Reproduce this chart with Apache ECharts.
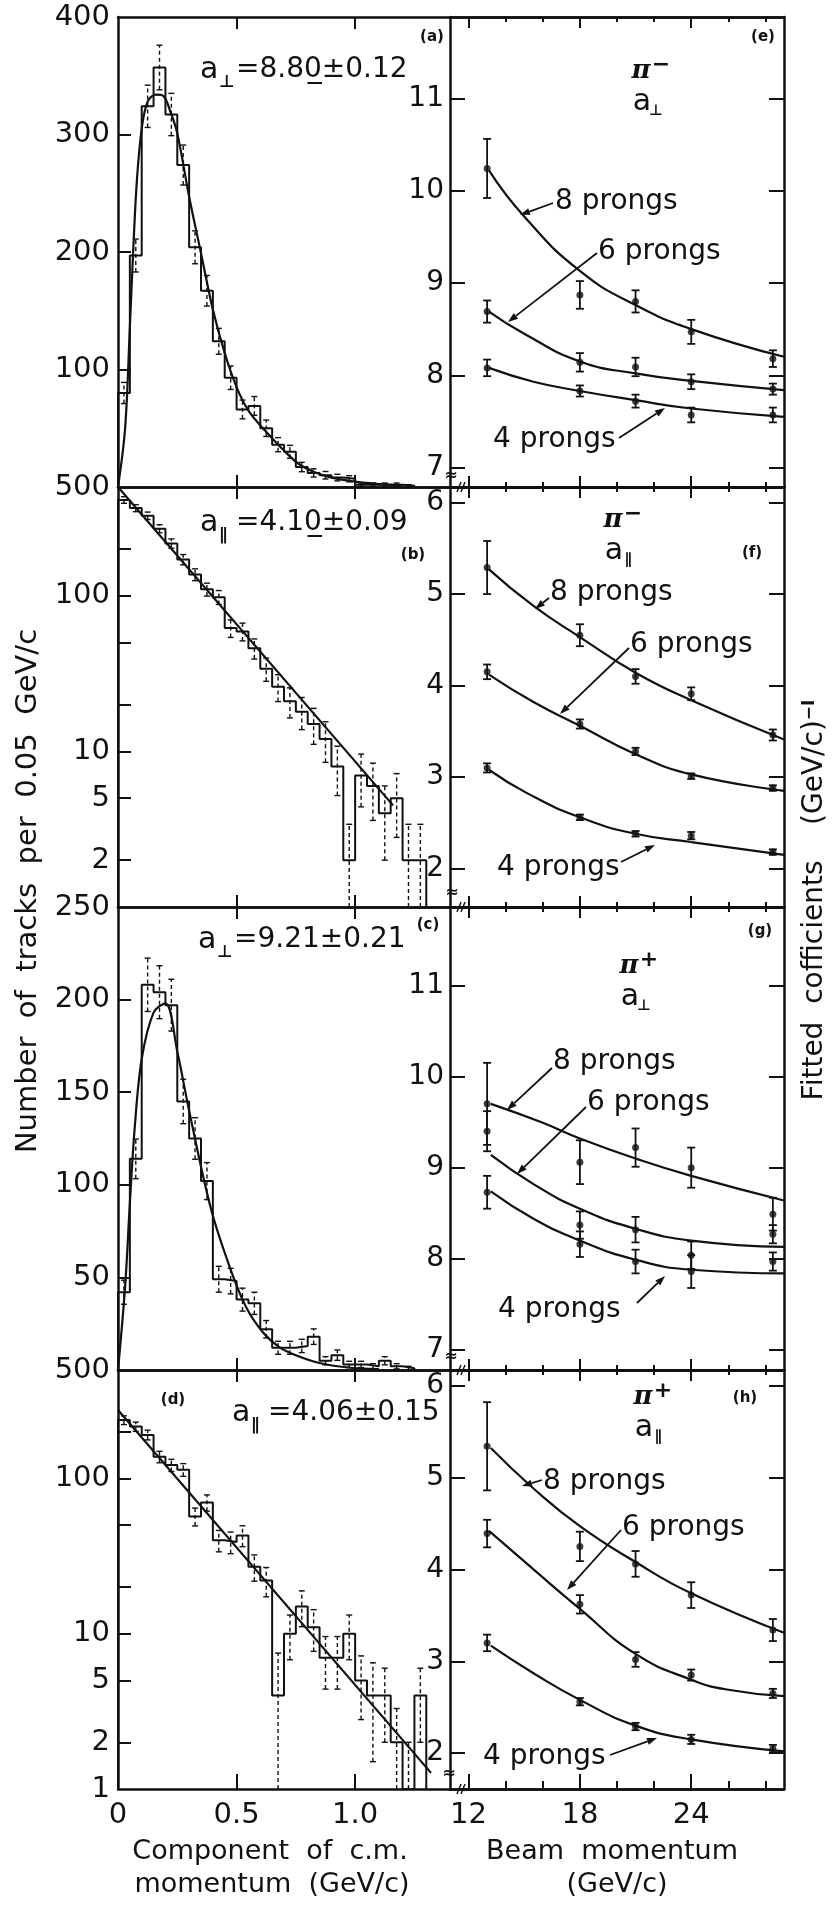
<!DOCTYPE html>
<html><head><meta charset="utf-8">
<script src="https://cdn.jsdelivr.net/npm/echarts@6/dist/echarts.min.js"></script>
<style>html,body{margin:0;padding:0;background:#fff}#c{width:835px;height:1905px}</style>
</head><body><div id="c"></div>
<script>
// ---------------- DATA ----------------
const binEdges = [0,0.05,0.1,0.15,0.2,0.25,0.3,0.35,0.4,0.45,0.5,0.55,0.6,0.65,0.7,0.75,0.8,0.85,0.9,0.95,1.0,1.05,1.1,1.15,1.2,1.25,1.3];
// (a) pi- transverse
const countsA = [80,197,324,357,317,274,204,167,124,93,66,69,50,36,30,17,12,10,8,7,2,2,2,2,1];
const errsA   = [9,14,18,19,18,17,14,13,11,10,8,8,7,6,5.5,4,3.5,3.2,2.8,2.6,1.4,1.4,1.4,1.4,1];
// (b) pi- longitudinal
const countsB = [413,366,327,270,217,171,137,110,98,62,59,46,34,26,21,18,15,12,8,2,7,6,4,5,2,2];
const errsB   = [20,19,18,16,15,13,12,10.5,10,8,7.7,6.8,5.8,5.1,4.6,4.2,3.9,3.5,2.8,1.4,2.6,2.4,2,2.2,1.4,1.4];
// (c) pi+ transverse
const countsC = [42,114,208,204,197,145,125,102,49,48,38,36,22,12,12,13,18,5,8,3,3,2,5,2,1];
const errsC   = [6.5,10.7,14.4,14.3,14,12,11.2,10,7,6.9,6.2,6,4.7,3.5,3.5,3.6,4.2,2.2,2.8,1.7,1.7,1.4,2.2,1.4,1];
// (d) pi+ longitudinal
const countsD = [238,216,191,138,122,114,57,70,40,39,43,27,22,4,10,15,11,7,7,10,5,4,4,2,1,4];
const errsD   = [15.4,14.7,13.8,11.7,11,10.7,7.5,8.4,6.3,6.2,6.6,5.2,4.7,3.5,3.2,3.9,3.3,2.6,2.6,3.2,2.2,2.5,2,1.3,1,2];
// fitted curves
const fitAx = [0,0.03,0.05,0.065,0.08,0.1,0.125,0.16,0.19,0.22,0.25,0.3,0.35,0.4,0.45,0.5,0.55,0.62,0.69,0.76,0.83,0.9,1.0,1.1,1.2];
const fitAy = [0,50,136,205,262,305,328,334,333,320,301,247,199,151,114,85,65,48,33,20,12.5,8,4.5,2.5,1.5];
const fitBx = [0,1.16];
const fitBy = [500,4.5];
const fitCx = [0,0.03,0.05,0.07,0.1,0.15,0.2,0.25,0.3,0.39,0.47,0.54,0.61,0.68,0.75,0.85,0.98,1.1];
const fitCy = [0,45,90,130,168,193,198,172,140,88,56,34,20.5,12.4,8,3.8,1.2,0.5];
const fitDx = [0,1.32];
const fitDy = [276,1.27];

// right panels: beam momentum (GeV/c)
const beamP = [13,18,21,24,28.4];
// (e) pi- a_perp
const eVal8 = [10.24,8.87,8.80,8.47,8.18], eErr8 = [0.32,0.15,0.12,0.13,0.09];
const eVal6 = [8.69,8.14,8.09,7.93,7.85],  eErr6 = [0.12,0.10,0.10,0.08,0.06];
const eVal4 = [8.08,7.83,7.72,7.57,7.57],  eErr4 = [0.09,0.06,0.07,0.08,0.08];
const eCur8x = [13.1,15,18,21,24,29], eCur8y = [10.22,9.72,9.13,8.76,8.50,8.20];
const eCur6x = [13.1,15,18,21,24,29], eCur6y = [8.69,8.45,8.15,8.02,7.94,7.84];
const eCur4x = [13.1,15.5,18,21,24,29], eCur4y = [8.08,7.93,7.83,7.73,7.64,7.55];
// (f) pi- a_par
const fVal8 = [5.29,4.55,4.10,3.91,3.46], fErr8 = [0.29,0.12,0.08,0.07,0.06];
const fVal6 = [4.15,3.58,3.28,3.01,2.88], fErr6 = [0.08,0.05,0.04,0.03,0.03];
const fVal4 = [3.10,2.56,2.38,2.36,2.18], fErr4 = [0.05,0.03,0.03,0.04,0.03];
const fCur8x = [13.1,15.5,18,21,24,29], fCur8y = [5.27,4.87,4.53,4.14,3.84,3.41];
const fCur6x = [13.1,15.5,18,21,24,29], fCur6y = [4.12,3.82,3.56,3.25,3.03,2.85];
const fCur4x = [13.1,15.1,18,21,24,29], fCur4y = [3.08,2.83,2.56,2.38,2.29,2.15];
// (g) pi+ a_perp
const gVal8 = [9.70,9.06,9.22,9.00,8.49], gErr8 = [0.45,0.24,0.21,0.22,0.18];
const gVal6 = [9.40,8.37,8.32,8.04,8.27], gErr6 = [0.22,0.15,0.14,0.15,0.10];
const gVal4 = [8.73,8.16,7.97,7.86,7.97], gErr4 = [0.18,0.14,0.13,0.18,0.10];
const gCur8x = [13.2,15.9,18,21,24,29], gCur8y = [9.70,9.50,9.32,9.10,8.91,8.64];
const gCur6x = [13.2,15.5,18,21,24,29], gCur6y = [9.14,8.82,8.55,8.33,8.20,8.13];
const gCur4x = [13.2,15.5,18,21,24,29], gCur4y = [8.74,8.44,8.20,7.99,7.88,7.84];
// (h) pi+ a_par
const hVal8 = [5.34,4.25,4.06,3.72,3.34], hErr8 = [0.48,0.16,0.14,0.14,0.12];
const hVal6 = [4.39,3.62,3.02,2.85,2.65], hErr6 = [0.15,0.10,0.08,0.06,0.05];
const hVal4 = [3.20,2.56,2.29,2.15,2.05], hErr4 = [0.09,0.04,0.04,0.05,0.04];
const hCur8x = [13.2,15.5,18,21,24,29], hCur8y = [5.32,4.88,4.47,4.08,3.74,3.31];
const hCur6x = [13.1,15.5,18,21,24,26,29], hCur6y = [4.42,4.00,3.57,3.08,2.80,2.69,2.62];
const hCur4x = [13.2,15.5,18,21,24,29], hCur4y = [3.17,2.87,2.58,2.30,2.15,2.02];

// tick / label values
const leftXLabels = [0,0.5,1.0], leftXTicks = [0.5,1.0];
const rightXLabels = [12,18,24], rightXMajor = [12,18,24], rightXMinor = [14,16,20,22,26,28];

// ---------------- BUILD ----------------
const F = "'DejaVu Sans', sans-serif";
const INK = '#111';
const grid = [], xAxis = [], yAxis = [], series = [];
const rowsY = [[17,470],[487,420],[907,463],[1370,419]];
const tickStyle = {color:INK, width:2};
const labelBase = {color:INK, fontFamily:F, fontSize:29};

function addGrid(left, width, r){ grid.push({left:left, width:width, top:r[0], height:r[1]}); return grid.length-1; }
function xAx(gi, o){ xAxis.push(Object.assign({gridIndex:gi, type:'value', splitLine:{show:false}, axisLine:{show:true,onZero:false,lineStyle:{color:INK,width:2.5}}}, o)); return xAxis.length-1; }
function yAx(gi, o){ yAxis.push(Object.assign({gridIndex:gi, splitLine:{show:false}, axisLine:{show:true,onZero:false,lineStyle:{color:INK,width:2.5}}}, o)); return yAxis.length-1; }

function errRender(dashed, capW, lw){
  return function(params, api){
    const x = api.value(0), lo = api.value(1), hi = api.value(2), capLo = api.value(3);
    const p1 = api.coord([x, lo]), p2 = api.coord([x, hi]);
    const kids = [
      {type:'line', shape:{x1:p1[0],y1:p1[1],x2:p2[0],y2:p2[1]}, style:{stroke:INK, lineWidth:lw, lineDash: dashed?[4,3]:null}},
      {type:'line', shape:{x1:p2[0]-capW,y1:p2[1],x2:p2[0]+capW,y2:p2[1]}, style:{stroke:INK, lineWidth:lw}}
    ];
    if (capLo) kids.push({type:'line', shape:{x1:p1[0]-capW,y1:p1[1],x2:p1[0]+capW,y2:p1[1]}, style:{stroke:INK, lineWidth:lw}});
    return {type:'group', children:kids};
  };
}
function zip(xs, ys){ return xs.map((x,i)=>[x, ys[i]]); }

const leftSpecs = [
  {counts:countsA, errs:errsA, fx:fitAx, fy:fitAy, smooth:true, type:'value', min:0, max:400, ticks:[100,200,300], labels:[100,200,300,400]},
  {counts:countsB, errs:errsB, fx:fitBx, fy:fitBy, smooth:false, type:'log', min:1, max:500, ticks:[2,5,10,20,50,100,200], labels:[2,5,10,100,500]},
  {counts:countsC, errs:errsC, fx:fitCx, fy:fitCy, smooth:true, type:'value', min:0, max:250, ticks:[50,100,150,200], labels:[50,100,150,200,250]},
  {counts:countsD, errs:errsD, fx:fitDx, fy:fitDy, smooth:false, type:'log', min:1, max:500, ticks:[2,5,10,20,50,100,200], labels:[1,2,5,10,100,500]}
];

leftSpecs.forEach((s, i) => {
  const bottomRow = (i === 3);
  const gi = addGrid(118, 332, rowsY[i]);
  const xi = xAx(gi, {min:0, max:1.4, position:'bottom',
    axisTick:{show:true, inside:true, length: bottomRow?15:12, customValues:leftXTicks, lineStyle:tickStyle},
    axisLabel:Object.assign({show:bottomRow, customValues:leftXLabels, margin:12,
      formatter: v => (Number(v) === 0 ? '0' : Number(v).toFixed(1))}, labelBase)});
  xAx(gi, {min:0, max:1.4, position:'top',
    axisTick:{show:true, inside:true, length:12, customValues:leftXTicks, lineStyle:tickStyle},
    axisLabel:{show:false}});
  const yi = yAx(gi, {type:s.type, logBase:10, min:s.min, max:s.max, position:'left',
    axisTick:{show:true, inside:true, length:13, customValues:s.ticks, lineStyle:tickStyle},
    axisLabel:Object.assign({customValues:s.labels, margin:8}, labelBase)});
  const base = s.min;
  const n = s.counts.length;
  const hist = [[binEdges[0], base]];
  s.counts.forEach((v, k) => hist.push([binEdges[k], v]));
  hist.push([binEdges[n], s.counts[n-1]]);
  hist.push([binEdges[n], base]);
  series.push({type:'line', xAxisIndex:xi, yAxisIndex:yi, step:'end', data:hist, symbol:'none',
    lineStyle:{color:INK, width:2}, z:3});
  const eb = s.counts.map((v, k) => {
    let lo = v - s.errs[k], capLo = 1;
    if (lo <= base) { lo = base; capLo = 0; }
    return [(binEdges[k] + binEdges[k+1]) / 2, lo, v + s.errs[k], capLo];
  });
  series.push({type:'custom', xAxisIndex:xi, yAxisIndex:yi, renderItem:errRender(true, 3, 1.4), data:eb, z:2});
  series.push({type:'line', xAxisIndex:xi, yAxisIndex:yi, data:zip(s.fx, s.fy), smooth:s.smooth ? 0.35 : false,
    symbol:'none', lineStyle:{color:INK, width:2.2}, z:4});
});

const rightSpecs = [
  {min:6.79, max:11.88, ticks:[7,8,9,10,11], sets:[[eVal8,eErr8,eCur8x,eCur8y],[eVal6,eErr6,eCur6x,eCur6y],[eVal4,eErr4,eCur4x,eCur4y]]},
  {min:1.58, max:6.17,  ticks:[2,3,4,5,6],   sets:[[fVal8,fErr8,fCur8x,fCur8y],[fVal6,fErr6,fCur6x,fCur6y],[fVal4,fErr4,fCur4x,fCur4y]]},
  {min:6.78, max:11.86, ticks:[7,8,9,10,11], sets:[[gVal8,gErr8,gCur8x,gCur8y],[gVal6,gErr6,gCur6x,gCur6y],[gVal4,gErr4,gCur4x,gCur4y]]},
  {min:1.61, max:6.17,  ticks:[2,3,4,5,6],   sets:[[hVal8,hErr8,hCur8x,hCur8y],[hVal6,hErr6,hCur6x,hCur6y],[hVal4,hErr4,hCur4x,hCur4y]]}
];

rightSpecs.forEach((s, i) => {
  const bottomRow = (i === 3);
  const gi = addGrid(450, 334, rowsY[i]);
  const xi = xAx(gi, {min:11, max:29, position:'bottom',
    axisTick:{show:true, inside:true, length: bottomRow?15:11, customValues:rightXMajor, lineStyle:tickStyle},
    axisLabel:Object.assign({show:bottomRow, customValues:rightXLabels, margin:12}, labelBase)});
  xAx(gi, {min:11, max:29, position:'bottom',
    axisTick:{show:true, inside:true, length: bottomRow?8:5, customValues:rightXMinor, lineStyle:tickStyle},
    axisLabel:{show:false}});
  xAx(gi, {min:11, max:29, position:'top',
    axisTick:{show:true, inside:true, length:11, customValues:rightXMajor, lineStyle:tickStyle}, axisLabel:{show:false}});
  xAx(gi, {min:11, max:29, position:'top',
    axisTick:{show:true, inside:true, length:5, customValues:rightXMinor, lineStyle:tickStyle}, axisLabel:{show:false}});
  const yi = yAx(gi, {type:'value', min:s.min, max:s.max, position:'left',
    axisTick:{show:true, inside:true, length:15, customValues:s.ticks, lineStyle:tickStyle},
    axisLabel:Object.assign({customValues:s.ticks, margin:6}, labelBase, {fontSize:28})});
  yAx(gi, {type:'value', min:s.min, max:s.max, position:'right',
    axisTick:{show:true, inside:true, length:15, customValues:s.ticks, lineStyle:tickStyle}, axisLabel:{show:false}});
  s.sets.forEach(set => {
    const [vals, errs, cx, cy] = set;
    series.push({type:'line', xAxisIndex:xi, yAxisIndex:yi, data:zip(cx, cy), smooth:0.5,
      symbol:'none', lineStyle:{color:INK, width:2.2}, z:3});
    series.push({type:'custom', xAxisIndex:xi, yAxisIndex:yi, renderItem:errRender(false, 4, 1.8),
      data: vals.map((v,k)=>[beamP[k], v-errs[k], v+errs[k], 1]), z:4});
    series.push({type:'scatter', xAxisIndex:xi, yAxisIndex:yi, data:zip(beamP, vals), symbol:'circle',
      symbolSize:7, itemStyle:{color:INK}, z:5});
  });
});

// ---------------- ANNOTATIONS ----------------
const G = [];
function txt(x, y, text, font, align, rot){
  const el = {type:'text', x:x, y:y, z:100,
    style:{text:text, font:font, fill:INK, align:align||'left', verticalAlign:'middle',
           textAlign:align||'left', textVerticalAlign:'middle'}};
  if (rot) el.rotation = rot;
  G.push(el);
}
function arrow(x1,y1,x2,y2){
  const ang = Math.atan2(y2-y1, x2-x1), L = 10, W = 3.5;
  const bx = x2 - L*Math.cos(ang), by = y2 - L*Math.sin(ang);
  const px = -Math.sin(ang)*W, py = Math.cos(ang)*W;
  G.push({type:'line', z:100, shape:{x1:x1,y1:y1,x2:bx,y2:by}, style:{stroke:INK, lineWidth:1.8}});
  G.push({type:'polygon', z:100, shape:{points:[[x2,y2],[bx+px,by+py],[bx-px,by-py]]}, style:{fill:INK}});
}
const P28 = `28px ${F}`;
function aLab(x, cy, sub, rest){
  txt(x, cy, 'a', `30px ${F}`);
  txt(x+19, cy+13, sub, `bold 17px ${F}`);
  txt(x+36, cy, rest, P28);
}
aLab(200, 70, '\u22A5', '=8.80\u0332\u00B10.12');
aLab(200, 523, '\u2225', '=4.10\u0332\u00B10.09');
aLab(198, 940, '\u22A5', '=9.21\u00B10.21');
aLab(232, 1413, '\u2225', '=4.06\u00B10.15');
[['(a)',432,37],['(b)',413,555],['(c)',428,925],['(d)',173,1400],
 ['(e)',763,37],['(f)',752,553],['(g)',760,931],['(h)',745,1398]].forEach(p => txt(p[1], p[2], p[0], `bold 15px ${F}`, 'center'));
function piLab(cx, cy, sign, sub){
  txt(cx, cy, '\u03C0', `italic bold 26px 'DejaVu Serif', serif`, 'center');
  txt(cx+20, cy-6, sign, `bold 22px ${F}`, 'center');
  txt(cx+1, cy+31, 'a', `30px ${F}`, 'center');
  txt(cx+15, cy+40, sub, `bold 15px ${F}`, 'center');
}
piLab(641, 71, '\u2212', '\u22A5');
piLab(613, 520, '\u2212', '\u2225');
piLab(629, 966, '+', '\u22A5');
piLab(643, 1397, '+', '\u2225');
[['8 prongs',555,202],['6 prongs',598,252],['4 prongs',493,440],
 ['8 prongs',550,593],['6 prongs',630,645],['4 prongs',497,868],
 ['8 prongs',553,1062],['6 prongs',587,1103],['4 prongs',498,1310],
 ['8 prongs',543,1482],['6 prongs',622,1528],['4 prongs',483,1757]].forEach(p => txt(p[1], p[2], p[0], P28));
[[553,203,520,215],[597,253,508,322],[619,438,665,408],
 [549,598,535,609],[629,648,560,714],[621,862,655,845],
 [552,1068,507,1110],[586,1107,517,1174],[637,1303,665,1276],
 [542,1480,522,1486],[621,1530,567,1590],[610,1755,657,1738]].forEach(a => arrow(a[0],a[1],a[2],a[3]));
[[451,476,487],[452,893,907],[451,1357,1370],[449,1774,1789]].forEach(b => {
  txt(b[0], b[1], '\u2248', `bold 16px ${F}`, 'center');
  G.push({type:'line', z:100, shape:{x1:457,y1:b[2]+5,x2:461,y2:b[2]-5}, style:{stroke:INK, lineWidth:1.4}});
  G.push({type:'line', z:100, shape:{x1:461,y1:b[2]+5,x2:465,y2:b[2]-5}, style:{stroke:INK, lineWidth:1.4}});
});
txt(270, 1852, 'Component  of  c.m.', `27px ${F}`, 'center');
txt(272, 1885, 'momentum  (GeV/c)', `27px ${F}`, 'center');
txt(612, 1852, 'Beam  momentum', `27px ${F}`, 'center');
txt(617, 1885, '(GeV/c)', `27px ${F}`, 'center');
txt(28, 891, 'Number  of  tracks  per  0.05  GeV/c', `29px ${F}`, 'center', Math.PI/2);
G.push({type:'text', x:815, y:900, rotation:Math.PI/2, z:100,
  style:{text:'{m|Fitted  cofficients    (GeV/c)}{s|\u2212I}', fill:INK, align:'center', verticalAlign:'middle',
    textAlign:'center', textVerticalAlign:'middle',
    rich:{m:{fontSize:28, fontFamily:F, fill:INK, color:INK}, s:{fontSize:17, fontFamily:F, fontWeight:'bold', verticalAlign:'top', fill:INK, color:INK}}}});

const chart = echarts.init(document.getElementById('c'), null, {renderer:'canvas', width:835, height:1905});
chart.setOption({
  animation:false,
  backgroundColor:'#fff',
  grid:grid, xAxis:xAxis, yAxis:yAxis, series:series,
  graphic:{elements:G}
});
</script>
</body></html>
